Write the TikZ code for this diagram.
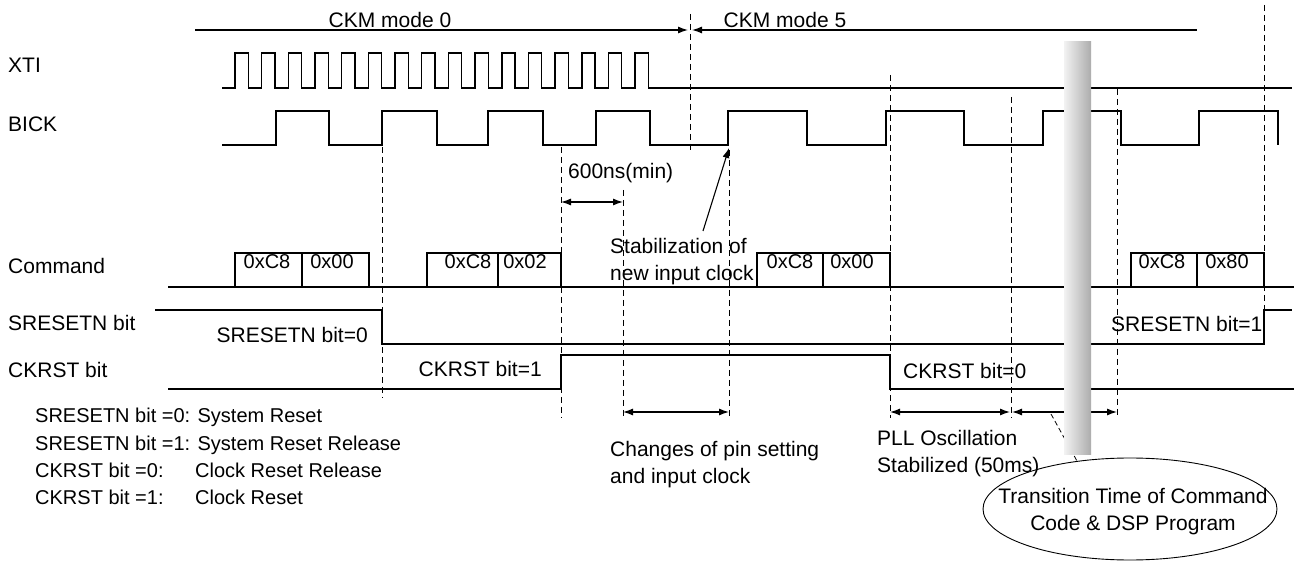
\documentclass[tikz,border=0pt]{standalone}
\usepackage{fontspec}
\setmainfont{Liberation Sans}
\usetikzlibrary{arrows.meta,shapes.geometric}
\begin{document}
\begin{tikzpicture}[x=1pt,y=-1pt,
  sig/.style={line width=1.6pt, line join=miter},
  guide/.style={line width=1pt, dash pattern=on 6pt off 4pt},
  dimarr/.style={line width=1.2pt, {Latex[length=10pt,width=7pt]}-{Latex[length=10pt,width=7pt]}},
  txt/.style={font=\fontsize{21}{25}\selectfont, inner sep=0pt},
  btxt/.style={font=\fontsize{20}{24}\selectfont, inner sep=0pt},
  gtxt/.style={font=\fontsize{20}{24}\selectfont, inner sep=0pt},
  mtxt/.style={font=\fontsize{21}{27.5}\selectfont, inner sep=0pt, align=left},
  box/.style={line width=1.6pt}]
\useasboundingbox (0,0) rectangle (1294,561);
\fill[white] (0,0) rectangle (1294,561);

% ---- left labels
\node[txt, anchor=base west] (lxti) at (8,73) {XTI};
\node[txt, anchor=base west] (lbick) at (8,132) {BICK};
\node[txt, anchor=base west] (lcmd) at (8,274) {Command};
\node[txt, anchor=base west] (lsr) at (8,331) {SRESETN bit};
\node[txt, anchor=base west] (lck) at (8,378) {CKRST bit};

% ---- legend
\node[gtxt, anchor=base west] (g1) at (35,423) {SRESETN bit =0: System Reset};
\node[gtxt, anchor=base west] (g2) at (35,450) {SRESETN bit =1: System Reset Release};
\node[gtxt, anchor=base west] (g3) at (35,477) {CKRST bit =0:};
\node[gtxt, anchor=base west] (g3b) at (195,477) {Clock Reset Release};
\node[gtxt, anchor=base west] (g4) at (35,504) {CKRST bit =1:};
\node[gtxt, anchor=base west] (g4b) at (195,504) {Clock Reset};

% ---- CKM mode line
\coordinate (m0) at (195,30);
\coordinate (mA) at (688,30);
\coordinate (mB) at (692,30);
\coordinate (m5) at (1197,30);
\draw[line width=1.2pt, -{Latex[length=10pt,width=7pt]}] (m0) -- (mA);
\draw[line width=1.2pt, {Latex[length=10pt,width=7pt]}-] (mB) -- (m5);
\node[txt, anchor=base] (ckm0) at (390,28) {CKM mode 0};
\node[txt, anchor=base] (ckm5) at (785,28) {CKM mode 5};

% ---- XTI
\draw[sig] (222,88) foreach \k in {0,...,15} {
   -- ({235+26.67*\k},88) -- ({235+26.67*\k},53) -- ({248.3+26.67*\k},53) -- ({248.3+26.67*\k},88) } -- (1292,88);

% ---- BICK
\draw[sig] (222,145) -- (276,145) -- (276,111) -- (329,111) -- (329,145) -- (382,145) -- (382,111)
  -- (437,111) -- (437,145) -- (488,145) -- (488,111) -- (543,111) -- (543,145) -- (596,145) -- (596,111)
  -- (650,111) -- (650,145) -- (728,145) -- (728,111) -- (807,111) -- (807,145) -- (886,145) -- (886,111)
  -- (964,111) -- (964,145) -- (1043,145) -- (1043,111) -- (1121,111) -- (1121,145) -- (1199,145)
  -- (1199,111) -- (1278,111) -- (1278,145);

% ---- Command
\draw[sig] (168,287) -- (1294,287);
\draw[box] (235,287) rectangle (369,253) (302,253) -- (302,287);
\draw[box] (427,287) rectangle (561,253) (498,253) -- (498,287);
\draw[box] (757,287) rectangle (890,253) (823,253) -- (823,287);
\draw[box] (1131,287) rectangle (1264,253) (1197,253) -- (1197,287);
\node[btxt, anchor=base] (c1a) at (267,269) {0xC8};
\node[btxt, anchor=base] (c1b) at (332,269) {0x00};
\node[btxt, anchor=base] (c2a) at (468,269) {0xC8};
\node[btxt, anchor=base] (c2b) at (525,269) {0x02};
\node[btxt, anchor=base] (c3a) at (790,269) {0xC8};
\node[btxt, anchor=base] (c3b) at (852,269) {0x00};
\node[btxt, anchor=base] (c4a) at (1162,269) {0xC8};
\node[btxt, anchor=base] (c4b) at (1227,269) {0x80};

% ---- SRESETN
\draw[sig] (155,310) -- (382,310) -- (382,344) -- (1264,344) -- (1264,310) -- (1292,310);
\node[txt, anchor=base east] (sr0) at (368,343) {SRESETN bit=0};
\node[txt, anchor=base west] (sr1) at (1111,332) {SRESETN bit=1};

% ---- CKRST
\draw[sig] (168,389) -- (561,389) -- (561,355) -- (890,355) -- (890,389) -- (1294,389);
\node[txt, anchor=base east] (ck1) at (542,377) {CKRST bit=1};
\node[txt, anchor=base west] (ck0) at (903,379) {CKRST bit=0};

% ---- dashed guides
\draw[guide] (382,147) -- (382,398);
\draw[guide] (561,147) -- (561,418);
\draw[guide] (623,190) -- (623,418);
\draw[guide] (690,14) -- (690,153);
\draw[guide] (729,150) -- (729,418);
\draw[guide] (890,75) -- (890,418);
\draw[guide] (1011,97) -- (1011,418);
\draw[guide] (1117,89) -- (1117,418);
\draw[guide] (1264,5) -- (1264,310);

% ---- dimension arrows
\coordinate (a1) at (561,202);
\coordinate (a2) at (623,202);
\draw[dimarr] (a1) -- (a2);
\node[txt, anchor=base west] (t600) at (568,179) {600ns(min)};

\coordinate (b1) at (623,412);
\coordinate (b2) at (729,412);
\draw[dimarr] (b1) -- (b2);
\node[mtxt, anchor=north west] (tchg) at (610,441) {Changes of pin setting\\and input clock};

\coordinate (p1) at (890,412);
\coordinate (p2) at (1010,412);
\coordinate (p3) at (1012,412);
\coordinate (p4) at (1117,412);
\draw[dimarr] (p1) -- (p2);
\draw[dimarr] (p3) -- (p4);
\node[mtxt, anchor=north west] (tpll) at (877,430) {PLL Oscillation\\Stabilized (50ms)};

% ---- stabilization
\node[mtxt, anchor=north west] (tstab) at (610,238) {Stabilization of\\new input clock};
\coordinate (s0) at (703,231);
\coordinate (s1) at (729,148);
\draw[line width=1.1pt, -{Latex[length=10pt,width=7pt]}] (s0) -- (s1);

% ---- ellipse and pointer
\node[ellipse, draw, line width=0.9pt, minimum width=294pt, minimum height=102pt, inner sep=0pt] (trans) at (1130,509) {};
\node[txt, anchor=base] (tr1) at (1133,503) {Transition Time of Command};
\node[txt, anchor=base] (tr2) at (1133,530) {Code \& DSP Program};
\coordinate (q0) at (1051,414);
\coordinate (q1) at (1077,461);
\draw[line width=0.8pt, dash pattern=on 5pt off 3pt] (q0) -- (q1);

% ---- gray bar
\shade[left color=gray!10, right color=gray!65] (1064,42) rectangle (1091,454);
\end{tikzpicture}
\end{document}
